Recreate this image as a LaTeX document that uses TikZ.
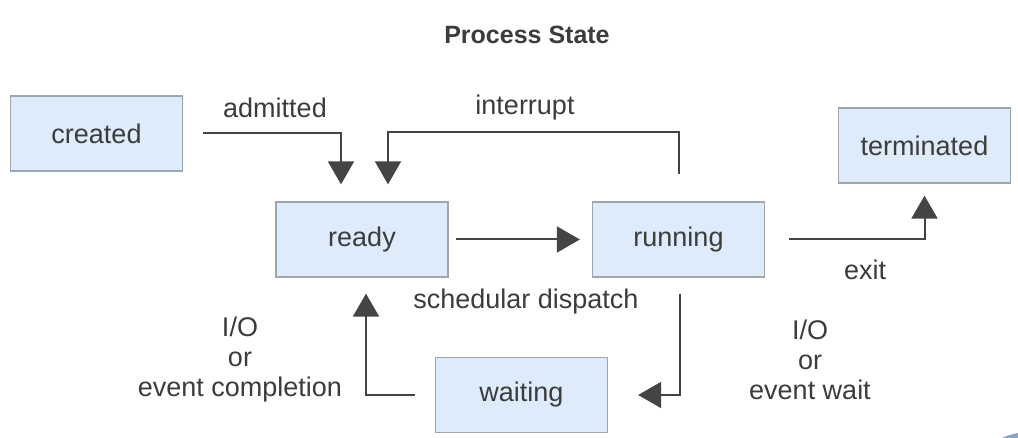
\documentclass[tikz,border=0pt]{standalone}
\usepackage{fontspec}
\setmainfont{Liberation Sans}
\usetikzlibrary{arrows.meta,calc}
\definecolor{boxfill}{HTML}{DDEBFB}
\definecolor{boxline}{HTML}{9EA6AE}
\definecolor{txt}{HTML}{3C3C3C}
\definecolor{arr}{HTML}{444444}
\definecolor{blob}{HTML}{8AA3C8}
\tikzset{
  statebox/.style={draw=boxline, fill=boxfill, line width=1.3pt, minimum width=172pt, minimum height=75pt, inner sep=0pt, text=txt, font=\fontsize{27}{30}\selectfont},
  lbl/.style={text=txt, font=\fontsize{27}{30}\selectfont, inner sep=0pt, align=center},
  conn/.style={draw=arr, line width=2pt, -{Triangle[width=26pt,length=23pt]}}
}
\begin{document}
\begin{tikzpicture}[x=1pt,y=-1pt]
\useasboundingbox (0,0) rectangle (1018,438);
\fill[white] (0,0) rectangle (1018,438);
\begin{scope}
\clip (0,0) rectangle (1018,438);
\fill[blob] (1030,500) circle (68);
\end{scope}
\node[text=txt, font=\fontsize{25}{28}\selectfont\bfseries, inner sep=0pt] (title) at (527,35) {Process State};
\node[statebox] (created) at (96.5,133.5) {created};
\node[statebox] (ready) at (362,239.5) {ready};
\node[statebox] (running) at (678.5,239.5) {running};
\node[statebox] (terminated) at (924.5,145.5) {terminated};
\node[statebox] (waiting) at (521.5,395) {waiting};
\node[lbl] (ladm) at (275,108) {admitted};
\node[lbl] (lint) at (525,108) {interrupt};
\node[lbl] (ldis) at (526,302) {schedular dispatch};
\node[lbl] (lexit) at (865,270) {exit};
\node[lbl] (lio1) at (240,360) {I/O\\or\\event completion};
\node[lbl] (lio2) at (810,360) {I/O\\or\\event wait};
\draw[conn] ([xshift=20pt]created.east) -| ([xshift=-21pt,yshift=17pt]ready.north);
\draw[conn] ([yshift=27pt]running.north) -- ++(0,-42) -| ([xshift=26pt,yshift=17pt]ready.north);
\draw[conn] ([xshift=7pt]ready.east) -- ([xshift=-12pt]running.west);
\draw[conn] ([xshift=24pt]running.east) -| ([yshift=-12pt]terminated.south);
\draw[conn] ([xshift=1.5pt,yshift=-16pt]running.south) |- ([xshift=30pt]waiting.east);
\draw[conn] ([xshift=-20pt]waiting.west) -| ([xshift=4pt,yshift=-16pt]ready.south);
\end{tikzpicture}
\end{document}
